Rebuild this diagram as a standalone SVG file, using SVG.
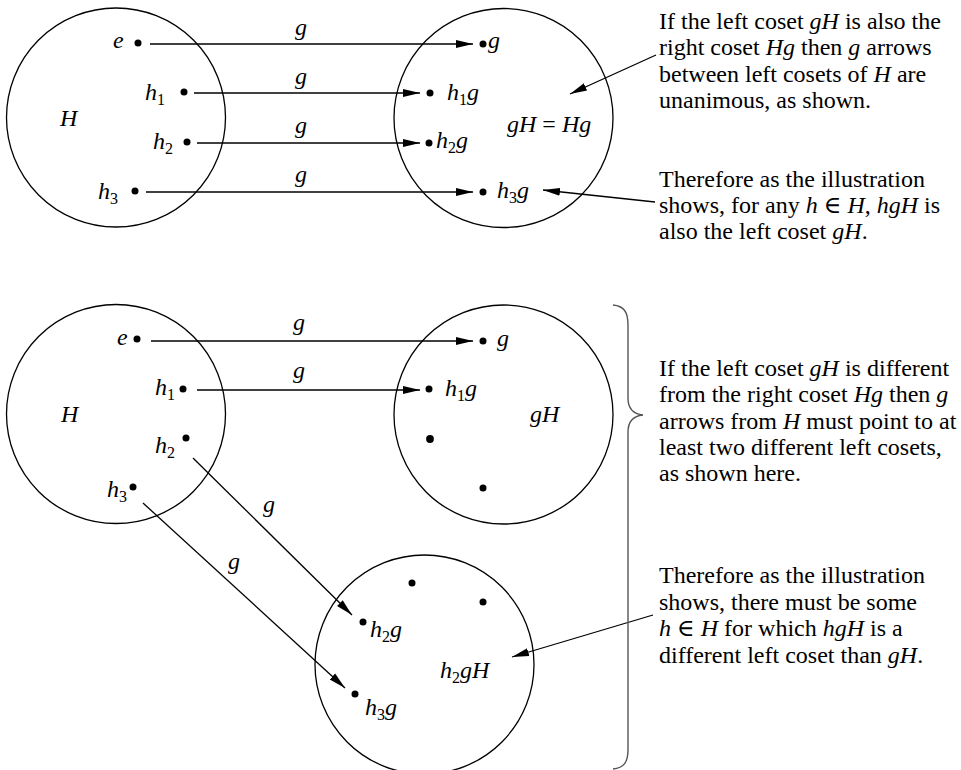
<svg xmlns="http://www.w3.org/2000/svg" width="961" height="770" viewBox="0 0 961 770">
<style>
text{font-family:"Liberation Serif","DejaVu Serif",serif;font-size:24px;fill:#000}
.m{font-style:italic}
.s{font-size:16px;font-style:normal}
.c{fill:none;stroke:#000;stroke-width:1.3}
.d{fill:#000}
.l{stroke:#000;stroke-width:1.3;fill:none}
.b{fill:none;stroke:#555;stroke-width:1.4}
</style>
<defs>
<marker id="ah" markerUnits="userSpaceOnUse" markerWidth="18" markerHeight="10" viewBox="0 0 18 10" refX="17" refY="5" orient="auto">
<path d="M0,1 L17,5 L0,9 Z" fill="#000"/>
</marker>
</defs>
<rect width="961" height="770" fill="#fff"/>

<g id="H-top">
<circle class="c" cx="116" cy="117.5" r="109.5"/>
<text class="m" x="60" y="126">H</text>
<circle class="d" cx="138" cy="43" r="3.5"/><text class="m" x="113" y="48">e</text>
<circle class="d" cx="184" cy="92" r="3.5"/><text class="m" x="145" y="100">h<tspan class="s" dy="5">1</tspan></text>
<circle class="d" cx="187" cy="142" r="3.5"/><text class="m" x="153" y="149">h<tspan class="s" dy="5">2</tspan></text>
<circle class="d" cx="135" cy="191" r="3.5"/><text class="m" x="98" y="199">h<tspan class="s" dy="5">3</tspan></text>
</g>

<g id="gH-top">
<circle class="c" cx="503.5" cy="118" r="109.5"/>
<text class="m" x="507" y="132">gH <tspan font-style="normal">=</tspan> Hg</text>
<circle class="d" cx="483" cy="44" r="3.5"/><text class="m" x="488" y="48">g</text>
<circle class="d" cx="430" cy="93" r="3.5"/><text class="m" x="447" y="100">h<tspan class="s" dy="5">1</tspan><tspan dy="-5">g</tspan></text>
<circle class="d" cx="429" cy="143" r="3.5"/><text class="m" x="436" y="148">h<tspan class="s" dy="5">2</tspan><tspan dy="-5">g</tspan></text>
<circle class="d" cx="483" cy="192" r="3.5"/><text class="m" x="497" y="198">h<tspan class="s" dy="5">3</tspan><tspan dy="-5">g</tspan></text>
</g>

<g id="H-bottom">
<circle class="c" cx="116" cy="414" r="109.5"/>
<text class="m" x="61" y="422">H</text>
<circle class="d" cx="137" cy="339" r="3.5"/><text class="m" x="117" y="345">e</text>
<circle class="d" cx="183" cy="389" r="3.5"/><text class="m" x="155" y="395">h<tspan class="s" dy="5">1</tspan></text>
<circle class="d" cx="186" cy="438" r="3.5"/><text class="m" x="155" y="453">h<tspan class="s" dy="5">2</tspan></text>
<circle class="d" cx="133" cy="487" r="3.5"/><text class="m" x="107" y="497">h<tspan class="s" dy="5">3</tspan></text>
</g>

<g id="gH-bottom">
<circle class="c" cx="503.5" cy="414.5" r="109.5"/>
<text class="m" x="530" y="422">gH</text>
<circle class="d" cx="483" cy="341" r="3.5"/><text class="m" x="497" y="346">g</text>
<circle class="d" cx="429" cy="389" r="3.5"/><text class="m" x="445" y="396">h<tspan class="s" dy="5">1</tspan><tspan dy="-5">g</tspan></text>
<circle class="d" cx="430" cy="439" r="3.9"/>
<circle class="d" cx="483" cy="488" r="3.5"/>
</g>

<g id="h2gH">
<circle class="c" cx="424.5" cy="664.5" r="109.5"/>
<text class="m" x="440" y="678">h<tspan class="s" dy="5">2</tspan><tspan dy="-5">gH</tspan></text>
<circle class="d" cx="412" cy="583" r="3.5"/>
<circle class="d" cx="483" cy="602" r="3.5"/>
<circle class="d" cx="363" cy="622" r="3.5"/><text class="m" x="370" y="637">h<tspan class="s" dy="5">2</tspan><tspan dy="-5">g</tspan></text>
<circle class="d" cx="355" cy="694" r="3.5"/><text class="m" x="365" y="715">h<tspan class="s" dy="5">3</tspan><tspan dy="-5">g</tspan></text>
</g>

<g id="connectors">
<line class="l" x1="150" y1="44" x2="473" y2="44" marker-end="url(#ah)"/>
<line class="l" x1="194" y1="93" x2="420" y2="93" marker-end="url(#ah)"/>
<line class="l" x1="197" y1="143" x2="420" y2="143" marker-end="url(#ah)"/>
<line class="l" x1="146" y1="192" x2="473" y2="192" marker-end="url(#ah)"/>
<line class="l" x1="656" y1="55" x2="570" y2="94" marker-end="url(#ah)"/>
<line class="l" x1="655" y1="202" x2="543" y2="190" marker-end="url(#ah)"/>
<line class="l" x1="151" y1="341" x2="473" y2="341" marker-end="url(#ah)"/>
<line class="l" x1="197" y1="390" x2="420" y2="390" marker-end="url(#ah)"/>
<line class="l" x1="193" y1="458" x2="352" y2="615" marker-end="url(#ah)"/>
<line class="l" x1="143" y1="503" x2="345" y2="688" marker-end="url(#ah)"/>
<line class="l" x1="653" y1="615" x2="512" y2="657" marker-end="url(#ah)"/>
<text class="m" x="295" y="35">g</text>
<text class="m" x="295" y="84">g</text>
<text class="m" x="295" y="133">g</text>
<text class="m" x="295" y="182">g</text>
<text class="m" x="293" y="330">g</text>
<text class="m" x="293" y="378">g</text>
<text class="m" x="263" y="512">g</text>
<text class="m" x="228" y="569">g</text>
</g>

<g id="brace">
<path class="b" d="M613,305 C624,306 628,312 628,325 L628,398 C628,408 633,414 643,415 C633,416 628,422 628,432 L628,750 C628,762 624,768 613,769"/>
</g>

<g id="notes">
<text x="659" y="29">If the left coset <tspan class="m">gH</tspan> is also the</text>
<text x="659" y="55">right coset <tspan class="m">Hg</tspan> then <tspan class="m">g</tspan> arrows</text>
<text x="659" y="82">between left cosets of <tspan class="m">H</tspan> are</text>
<text x="659" y="108">unanimous, as shown.</text>
<text x="659" y="187">Therefore as the illustration</text>
<text x="659" y="213">shows, for any <tspan class="m">h</tspan> ∈ <tspan class="m">H</tspan>, <tspan class="m">hgH</tspan> is</text>
<text x="659" y="239">also the left coset <tspan class="m">gH</tspan>.</text>
<text x="659" y="376">If the left coset <tspan class="m">gH</tspan> is different</text>
<text x="659" y="402">from the right coset <tspan class="m">Hg</tspan> then <tspan class="m">g</tspan></text>
<text x="659" y="429">arrows from <tspan class="m">H</tspan> must point to at</text>
<text x="659" y="455">least two different left cosets,</text>
<text x="659" y="481">as shown here.</text>
<text x="659" y="583">Therefore as the illustration</text>
<text x="659" y="610">shows, there must be some</text>
<text x="659" y="636"><tspan class="m">h</tspan> ∈ <tspan class="m">H</tspan> for which <tspan class="m">hgH</tspan> is a</text>
<text x="659" y="663">different left coset than <tspan class="m">gH</tspan>.</text>
</g>
</svg>
